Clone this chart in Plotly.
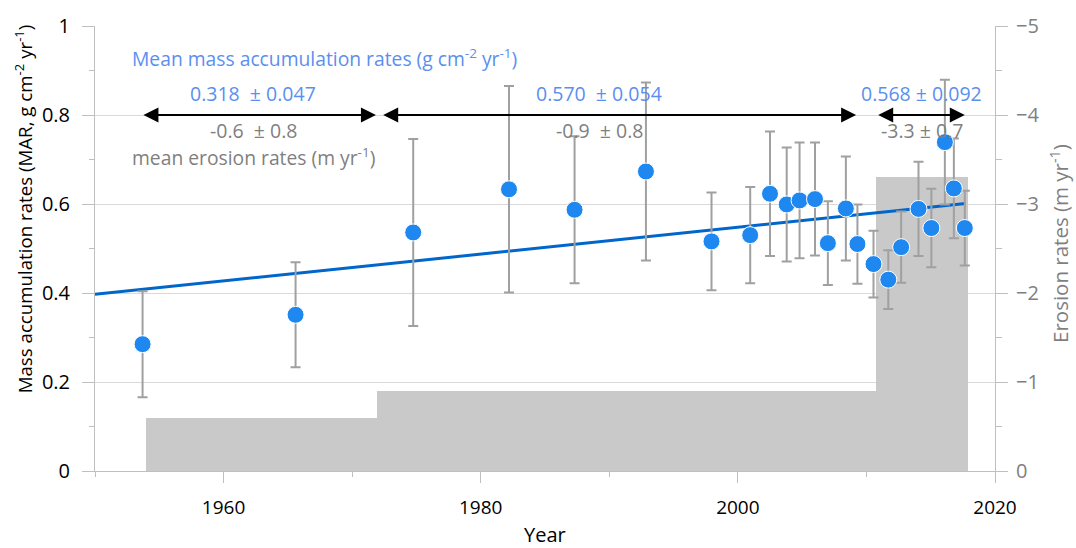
import plotly.graph_objects as go

# ---- data ----
years = [1953.7, 1965.6, 1974.75, 1982.2, 1987.3, 1992.85, 1997.95, 2000.96, 2002.5,
         2003.8, 2004.8, 2006.0, 2007.0, 2008.4, 2009.3, 2010.55, 2011.7, 2012.7,
         2014.05, 2015.05, 2016.1, 2016.8, 2017.65]
mar = [0.285, 0.351, 0.536, 0.633, 0.587, 0.673, 0.516, 0.530, 0.623,
       0.599, 0.608, 0.611, 0.512, 0.590, 0.510, 0.465, 0.430, 0.503,
       0.589, 0.546, 0.739, 0.635, 0.546]
mar_err = [0.119, 0.118, 0.210, 0.232, 0.165, 0.200, 0.110, 0.108, 0.140,
           0.128, 0.130, 0.127, 0.094, 0.117, 0.089, 0.075, 0.066, 0.080,
           0.106, 0.088, 0.140, 0.112, 0.084]

trend_years = [1950.0, 2017.7]
trend_mar = [0.397, 0.601]

period_start = [1954.0, 1971.9, 2010.75]
period_end = [1971.9, 2010.75, 2017.9]
erosion_rate = [-0.6, -0.9, -3.3]

arrow_start = [1953.65, 1972.3, 2010.8]
arrow_end = [1971.85, 2009.2, 2017.65]
mar_mean_labels = ["0.318  \u00b1 0.047", "0.570  \u00b1 0.054", "0.568 \u00b1 0.092"]
ero_mean_labels = ["-0.6  \u00b1 0.8", "-0.9  \u00b1 0.8", "-3.3 \u00b1 0.7"]
label_x = [1962.3, 1989.2, 2014.3]

FONT = "Open Sans"
BLUE_TXT = "#5B8FEF"
GRAY_TXT = "#7F7F7F"
AXIS_GRAY = "#BFBFBF"

fig = go.Figure()

# erosion-rate bars (primary y axis, right side, drawn first / underneath)
fig.add_trace(go.Bar(
    x=[(s + e) / 2 for s, e in zip(period_start, period_end)],
    width=[e - s for s, e in zip(period_start, period_end)],
    y=erosion_rate,
    marker=dict(color="#C9C9C9", line=dict(width=0)),
    yaxis="y", showlegend=False, hoverinfo="skip",
))

# trend line
fig.add_trace(go.Scatter(
    x=trend_years, y=trend_mar, mode="lines",
    line=dict(color="#0066CC", width=3),
    yaxis="y2", showlegend=False,
))

# MAR points with error bars
fig.add_trace(go.Scatter(
    x=years, y=mar, mode="markers",
    marker=dict(color="#1E88F0", size=17, line=dict(color="white", width=1)),
    error_y=dict(type="data", array=mar_err, color="#A0A0A0", thickness=2, width=5),
    yaxis="y2", showlegend=False,
))

annotations = []
# arrows
for s, e in zip(arrow_start, arrow_end):
    annotations.append(dict(
        x=e, y=0.8, ax=s, ay=0.8, xref="x", yref="y2", axref="x", ayref="y2",
        text="", showarrow=True, arrowhead=2, arrowside="end+start",
        arrowsize=1.5, arrowwidth=2, arrowcolor="black", standoff=0, startstandoff=0,
    ))
for lx, mt, et in zip(label_x, mar_mean_labels, ero_mean_labels):
    annotations.append(dict(x=lx, y=0.849, xref="x", yref="y2", text=mt, showarrow=False,
                            font=dict(family=FONT, size=19.5, color=BLUE_TXT)))
    annotations.append(dict(x=lx, y=0.766, xref="x", yref="y2", text=et, showarrow=False,
                            font=dict(family=FONT, size=19.5, color=GRAY_TXT)))
annotations.append(dict(x=1952.75, y=0.928, xref="x", yref="y2", xanchor="left",
                        text="Mean mass accumulation rates (g cm<sup>-2</sup> yr<sup>-1</sup>)",
                        showarrow=False, font=dict(family=FONT, size=19.3, color=BLUE_TXT)))
annotations.append(dict(x=1952.75, y=0.706, xref="x", yref="y2", xanchor="left",
                        text="mean erosion rates (m yr<sup>-1</sup>)",
                        showarrow=False, font=dict(family=FONT, size=19.3, color=GRAY_TXT)))
# axis titles
annotations.append(dict(x=-0.079, y=0.59, xref="paper", yref="paper", textangle=-90,
                        xanchor="center", yanchor="middle",
                        text="Mass accumulation rates (MAR, g cm<sup>-2</sup> yr<sup>-1</sup>)",
                        showarrow=False, font=dict(family=FONT, size=18.7, color="black")))
annotations.append(dict(x=1.072, y=0.512, xref="paper", yref="paper", textangle=-90,
                        xanchor="center", yanchor="middle",
                        text="Erosion rates (m yr<sup>-1</sup>)",
                        showarrow=False, font=dict(family=FONT, size=20.5, color=GRAY_TXT)))
annotations.append(dict(x=0.5, y=-0.1425, xref="paper", yref="paper",
                        xanchor="center", yanchor="middle",
                        text="Year", showarrow=False,
                        font=dict(family=FONT, size=20, color="black")))

fig.update_layout(
    width=1076, height=548,
    margin=dict(l=95, r=81, t=22, b=77),
    paper_bgcolor="white", plot_bgcolor="white",
    font=dict(family=FONT, color="black"),
    bargap=0,
    xaxis=dict(
        range=[1950, 2020], tickvals=[1960, 1980, 2000, 2020],
        ticks="outside", ticklen=11, tickcolor=AXIS_GRAY, tickwidth=1,
        minor=dict(dtick=10, tick0=1950, ticks="outside", ticklen=5, tickcolor=AXIS_GRAY),
        showline=True, linecolor=AXIS_GRAY, linewidth=1, showgrid=False, zeroline=False,
        tickfont=dict(size=19, color="black"), ticklabelstandoff=8,
    ),
    yaxis=dict(
        side="right", range=[0, -5], dtick=1,
        ticks="outside", ticklen=12, tickcolor=AXIS_GRAY,
        minor=dict(dtick=0.5, ticks="outside", ticklen=6, tickcolor=AXIS_GRAY),
        showline=True, linecolor=AXIS_GRAY, linewidth=1,
        showgrid=True, gridcolor="#D9D9D9", gridwidth=1, zeroline=False,
        tickfont=dict(size=20, color=GRAY_TXT), ticklabelstandoff=4,
    ),
    yaxis2=dict(
        overlaying="y", side="left", range=[0, 1], dtick=0.2,
        ticks="outside", ticklen=12, tickcolor=AXIS_GRAY,
        minor=dict(dtick=0.1, ticks="outside", ticklen=5, tickcolor=AXIS_GRAY),
        showline=True, linecolor=AXIS_GRAY, linewidth=1, showgrid=False, zeroline=False,
        tickfont=dict(size=20, color="black"), ticklabelstandoff=8,
    ),
    annotations=annotations,
)

fig.write_html("out.html")
